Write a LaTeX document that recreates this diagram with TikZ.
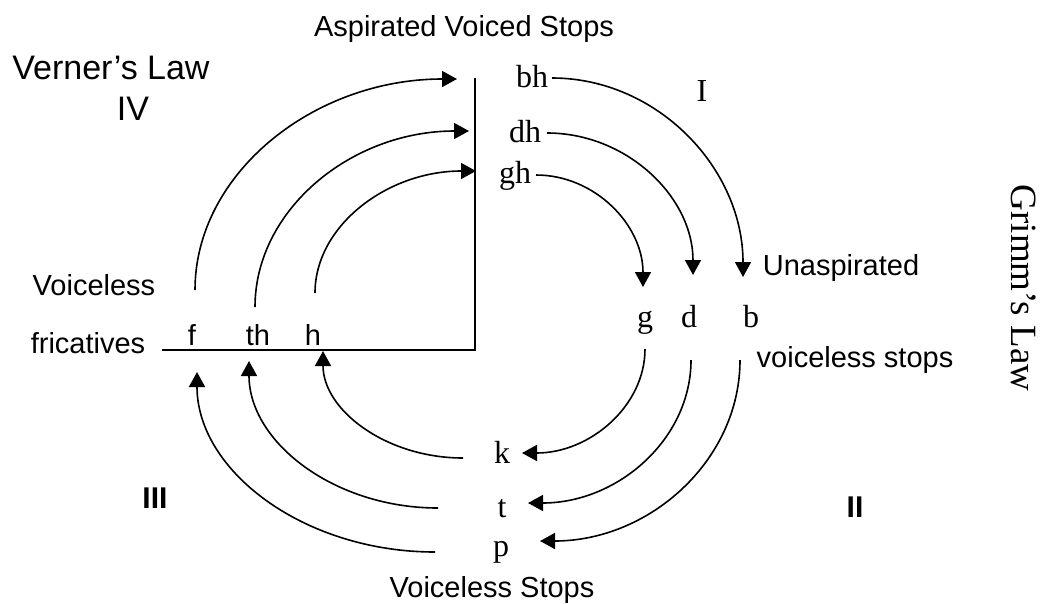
\documentclass[tikz,border=0pt]{standalone}
\usepackage{fontspec}
\setmainfont{Liberation Serif}
\setsansfont{Liberation Sans}
\usetikzlibrary{arrows.meta,calc}
\tikzset{
  sanslab/.style={font=\sffamily\fontsize{29}{32}\selectfont, inner sep=0pt, anchor=base},
  biglab/.style={font=\sffamily\fontsize{34}{36}\selectfont, inner sep=0pt, anchor=base},
  boldlab/.style={font=\sffamily\bfseries\fontsize{30}{32}\selectfont, inner sep=0pt, anchor=base},
  serlab/.style={font=\fontsize{32}{34}\selectfont, inner sep=2pt, anchor=base},
  axis/.style={line width=1.6pt},
  arr/.style={line width=1.6pt, -{Triangle[length=15pt,width=16pt]}}
}
\begin{document}
\begin{tikzpicture}[x=1pt,y=-1pt]
\useasboundingbox (0,0) rectangle (1041,603);
% labels
\node[sanslab] (asp) at (464,36) {Aspirated Voiced Stops};
\node[biglab] (verner) at (111,79) {Verner’s Law};
\node[biglab] (iv) at (133,120) {IV};
\node[sanslab] (voiceless) at (94,295) {Voiceless};
\node[sanslab] (fric) at (88,353) {fricatives};
\node[sanslab] (f) at (192,345) {f};
\node[sanslab] (th) at (258,345) {th};
\node[sanslab] (h) at (313,345) {h};
\node[serlab] (bh) at (532,87) {bh};
\node[serlab] (dh) at (525,142) {dh};
\node[serlab] (gh) at (515,183) {gh};
\node[serlab] (I) at (702,101) {I};
\node[serlab] (g) at (645,327) {g};
\node[serlab] (d) at (689,327) {d};
\node[serlab] (b) at (751,327) {b};
\node[sanslab] (unasp) at (841,275) {Unaspirated};
\node[sanslab] (vstops) at (855,367) {voiceless stops};
\node[serlab] (k) at (502,463) {k};
\node[serlab] (t) at (502,517) {t};
\node[serlab] (p) at (501,556) {p};
\node[sanslab] (VS) at (492,597) {Voiceless Stops};
\node[boldlab] (III) at (155,508) {III};
\node[boldlab] (II) at (855,517) {II};
\node[rotate=-90, font=\fontsize{37}{40}\selectfont, inner sep=0pt] (grimm) at (1024,288) {Grimm’s Law};
% axes
\coordinate (vtop) at (475,78);
\coordinate (corner) at (475,350);
\coordinate (hleft) at (162,350);
\draw[axis] (vtop) -- (corner) -- (hleft);
% I : aspirated voiced -> unaspirated
\draw[arr] ($(bh.base)+(20,-9)$) .. controls +(105,0) and +(0,-109) .. ($(b.base)+(-8,-50)$);
\draw[arr] ($(dh.base)+(22,-9)$) .. controls +(80,0) and +(0,-78) .. ($(d.base)+(4,-52)$);
\draw[arr] ($(gh.base)+(21,-8)$) .. controls +(59,0) and +(0,-62) .. ($(g.base)+(-2,-40)$);
% II : unaspirated -> voiceless stops
\draw[arr] ($(g.base)+(0,22)$) .. controls +(0,57) and +(68,0) .. ($(k.base)+(20,-10)$);
\draw[arr] ($(d.base)+(2,33)$) .. controls +(0,79) and +(90,0) .. ($(t.base)+(26,-14)$);
\draw[arr] ($(b.base)+(-11,33)$) .. controls +(0,100) and +(110,0) .. ($(p.base)+(39,-15)$);
% III : voiceless stops -> voiceless fricatives
\draw[arr] ($(k.base)+(-39,-5)$) .. controls +(-77,0) and +(0,59) .. ($(h.base)+(10,6)$);
\draw[arr] ($(t.base)+(-64,-9)$) .. controls +(-104,0) and +(0,81) .. ($(th.base)+(-9,16)$);
\draw[arr] ($(p.base)+(-66,-4)$) .. controls +(-131,0) and +(0,99) .. ($(f.base)+(5,27)$);
% IV : voiceless fricatives -> aspirated voiced
\draw[arr] ($(f.base)+(3,-55)$) .. controls +(0,-116) and +(-144,0) .. ($(bh.base)+(-75,-8)$);
\draw[arr] ($(th.base)+(-3,-38)$) .. controls +(0,-97) and +(-118,0) .. ($(dh.base)+(-56,-11)$);
\draw[arr] ($(h.base)+(2,-52)$) .. controls +(0,-67) and +(-89,0) .. ($(gh.base)+(-39,-12)$);
\end{tikzpicture}
\end{document}
